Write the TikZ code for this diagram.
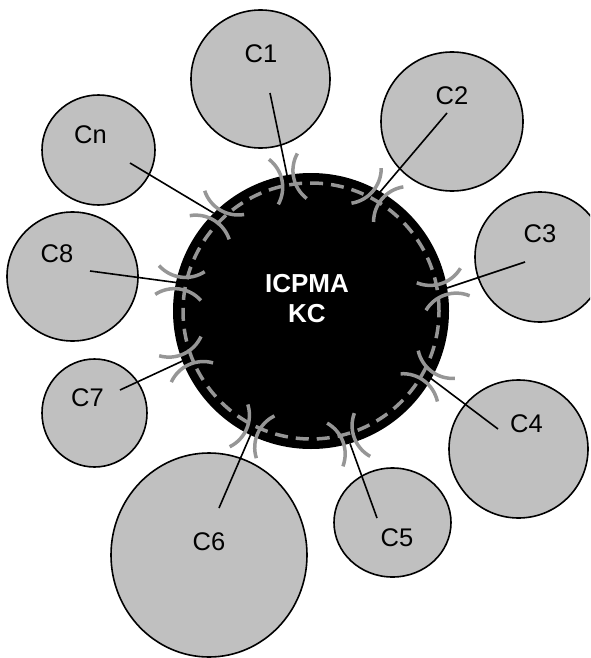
\documentclass[tikz,border=0pt]{standalone}
\usepackage{fontspec}
\setmainfont{Liberation Sans}
\usetikzlibrary{shapes.geometric}
\definecolor{satfill}{RGB}{192,192,192}
\definecolor{ringgray}{RGB}{150,150,150}
\begin{document}
\begin{tikzpicture}[x=1pt,y=-1pt,
  sat/.style={ellipse,draw=black,line width=1.6pt,fill=satfill,inner sep=0pt},
  satlabel/.style={font=\fontsize{25.5}{30}\selectfont,inner sep=0pt},
  link/.style={draw=black,line width=1.6pt},
  sockarc/.style={draw=ringgray,line width=3.5pt},
  socket/.pic={
    \draw[sockarc] (-19,14.5) .. controls (-5.76,3.14) and (13.76,3.14) .. (27,14.5);
    \draw[sockarc] (-19,-14.5) .. controls (-5.76,-3.14) and (13.76,-3.14) .. (27,-14.5);
  }]
\useasboundingbox (0,0) rectangle (590,658);
\clip (0,0) rectangle (590,658);

% satellite components
\node[sat,minimum width=139pt,minimum height=138pt] (sat1) at (260.5,79) {};
\node[sat,minimum width=142pt,minimum height=139pt] (sat2) at (452,121.5) {};
\node[sat,minimum width=130pt,minimum height=130pt] (sat3) at (540,257) {};
\node[sat,minimum width=139pt,minimum height=138pt] (sat4) at (518.5,449) {};
\node[sat,minimum width=117pt,minimum height=109pt] (sat5) at (392.5,522.5) {};
\node[sat,minimum width=196pt,minimum height=204pt] (sat6) at (209,555) {};
\node[sat,minimum width=105pt,minimum height=108pt] (sat7) at (94.5,413) {};
\node[sat,minimum width=131pt,minimum height=129pt] (sat8) at (72.5,276.5) {};
\node[sat,minimum width=113pt,minimum height=110pt] (satn) at (98.5,150) {};

% labels
\node[satlabel] (lab1) at (261,54) {C1};
\node[satlabel] (lab2) at (452,95.5) {C2};
\node[satlabel] (lab3) at (540,234) {C3};
\node[satlabel] (lab4) at (526.5,424) {C4};
\node[satlabel] (lab5) at (397,538) {C5};
\node[satlabel] (lab6) at (209,542) {C6};
\node[satlabel] (lab7) at (87.5,398) {C7};
\node[satlabel] (lab8) at (57,254) {C8};
\node[satlabel] (labn) at (90.5,134.5) {Cn};

% connector ends
\coordinate (s1) at (270,93);   \coordinate (j1) at (287,175);
\coordinate (s2) at (447,113);  \coordinate (j2) at (380,192);
\coordinate (s3) at (525,262);  \coordinate (j3) at (447,288);
\coordinate (s4) at (498,429);  \coordinate (j4) at (431,378.5);
\coordinate (s5) at (377,518);  \coordinate (j5) at (350,443.5);
\coordinate (s6) at (219,508);  \coordinate (j6) at (250.5,435);
\coordinate (s7) at (120,390);  \coordinate (j7) at (182.5,361);
\coordinate (s8) at (90,271);   \coordinate (j8) at (176,282.5);
\coordinate (sn) at (130,163);  \coordinate (jn) at (213.5,213);

\foreach \k in {1,2,3,4,5,6,7,8,n}{
  \draw[link] (s\k) -- (j\k);
}

% central kernel
\node[circle,fill=black,minimum size=276pt,inner sep=0pt] (core) at (311,311) {};
\draw[draw=ringgray,line width=3.5pt,dash pattern=on 13pt off 8pt] (core.center) circle[radius=128pt];
\node[font=\bfseries\fontsize{26}{30}\selectfont,text=white,align=center,inner sep=0pt] (title) at (307,299) {ICPMA\\KC};

% interface sockets
\pic[rotate=-78.3] at (j1) {socket};
\pic[rotate=-130.3] at (j2) {socket};
\pic[rotate=-161.6] at (j3) {socket};
\pic[rotate=142.9] at (j4) {socket};
\pic[rotate=110.1] at (j5) {socket};
\pic[rotate=66.8] at (j6) {socket};
\pic[rotate=24.7] at (j7) {socket};
\pic[rotate=-7.6] at (j8) {socket};
\pic[rotate=-31.0] at (jn) {socket};
\end{tikzpicture}
\end{document}
